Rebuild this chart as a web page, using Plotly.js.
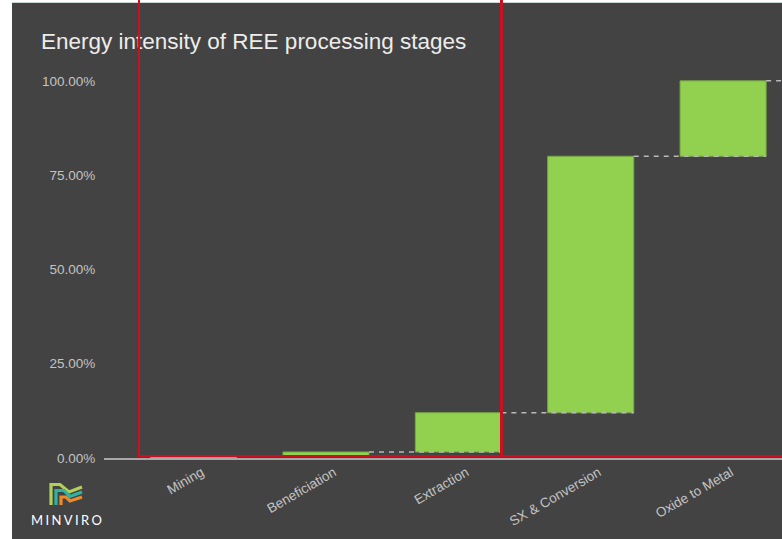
<!DOCTYPE html>
<html>
<head>
<meta charset="utf-8">
<script src="https://cdn.plot.ly/plotly-3.0.1.min.js"></script>
<style>
  html, body { margin: 0; padding: 0; background: #ffffff; }
  #frame { position: relative; width: 782px; height: 539px; overflow: hidden; background: #ffffff; }
  #panel { position: absolute; left: 12px; top: 3px; right: 0; bottom: 0; background: #434343; }
  #rule  { position: absolute; left: 12px; top: 2px; right: 0; height: 1px; background: #c9d6d3; }
  #chart { position: absolute; left: 0; top: 0; width: 782px; height: 539px; }
  .hl { position: absolute; background: #cc1020; z-index: 5; }
  #logo { position: absolute; left: 26px; top: 480px; z-index: 4; }
</style>
</head>
<body>
<div id="frame">
  <div id="panel"></div>
  <div id="rule"></div>
  <div id="chart"></div>
  <!-- highlight box around the early stages -->
  <div class="hl" style="left:138px; top:0; width:2px; height:457px;"></div>
  <div class="hl" style="left:500px; top:0; width:3px; height:457px;"></div>
  <div class="hl" style="left:138px; top:454.5px; width:644px; height:2.5px;"></div>
  <svg id="logo" width="84" height="52" viewBox="0 0 84 52">
    <g fill="none" stroke-width="3.2" stroke-linejoin="miter">
      <polyline points="25,25 25,4.5 34,4.5 43,12 56,7" stroke="#b3cf5a"/>
      <polyline points="30,25 30,10.5 38,10.5 44,16.5 56,12" stroke="#2fb3a2"/>
      <polyline points="35,25 35,17 40,17 44,21 56,17" stroke="#ef8a2a"/>
    </g>
    <text x="5" y="45" font-family="Lato, 'DejaVu Sans', sans-serif" font-size="13" fill="#ffffff"
          textLength="71" lengthAdjust="spacing">MINVIRO</text>
  </svg>
</div>
<script>
// Processing stages and each stage's share of total energy (%)
const stages = ['Mining', 'Beneficiation', 'Extraction', 'SX & Conversion', 'Oxide to Metal'];
const shares = [0.6, 1.0, 10.4, 68.0, 20.0];
const yTicks = [0, 25, 50, 75, 100];
const yTickText = yTicks.map(v => v.toFixed(2) + '%');

// running totals: each bar floats on the sum of the stages before it
const idx = stages.map((_, i) => i);
const bases = [];
const tops = [];
let run = 0;
shares.forEach(v => { bases.push(run); run += v; tops.push(run); });

const halfW = 0.325;

// dashed connectors: from the end of one bar across the foot of the next
const cx = [], cy = [];
tops.forEach((t, i) => {
  cx.push(i + halfW, i + 1 + halfW, null);
  cy.push(t, t, null);
});

const bars = {
  type: 'bar',
  x: idx,
  y: shares,
  base: bases,
  width: 2 * halfW,
  marker: { color: '#92d050', line: { color: '#77a843', width: 1 } },
  hoverinfo: 'skip'
};

const connectors = {
  type: 'scatter',
  mode: 'lines',
  x: cx,
  y: cy,
  line: { color: '#b8b8b8', width: 1.5, dash: '5px,5px' },
  hoverinfo: 'skip',
  connectgaps: false
};

const sans = "'Liberation Sans', Arial, sans-serif";
const tickFont = { family: sans, size: 13.5, color: '#c4c4c4' };

const layout = {
  width: 782,
  height: 539,
  paper_bgcolor: 'rgba(0,0,0,0)',
  plot_bgcolor: 'rgba(0,0,0,0)',
  showlegend: false,
  margin: { l: 104, r: 0, t: 61.6, b: 81, pad: 0 },
  title: {
    text: 'Energy intensity of REE processing stages',
    font: { family: sans, size: 22.5, color: '#ececec' },
    x: 41 / 782,
    xref: 'container',
    xanchor: 'left',
    y: 1 - 41.5 / 539,
    yref: 'container',
    yanchor: 'middle'
  },
  xaxis: {
    range: [-0.677, 4.445],
    tickvals: idx,
    ticktext: stages,
    tickangle: -30,
    tickfont: tickFont,
    ticklabelshift: 8,
    showgrid: false,
    zeroline: false,
    showline: true,
    linecolor: '#a8a8a8',
    linewidth: 1.5,
    ticks: '',
    fixedrange: true
  },
  yaxis: {
    range: [0, 105],
    tickvals: yTicks,
    ticktext: yTickText,
    tickfont: tickFont,
    showgrid: false,
    zeroline: false,
    showline: false,
    ticks: 'outside',
    ticklen: 5,
    tickcolor: 'rgba(0,0,0,0)',
    fixedrange: true
  }
};

Plotly.newPlot('chart', [bars, connectors], layout, { staticPlot: true, displayModeBar: false });
</script>
</body>
</html>
